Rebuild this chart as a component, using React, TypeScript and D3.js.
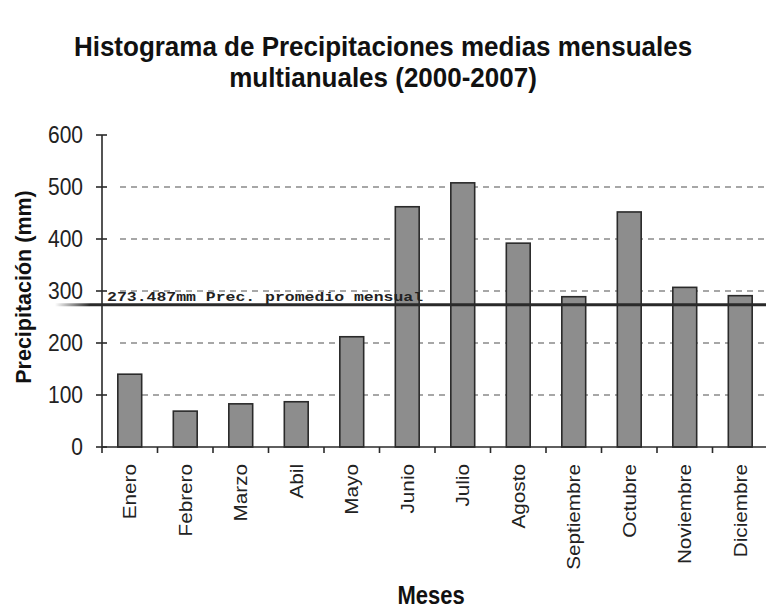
import * as d3 from "d3";
import * as React from "react";

const meses = ["Enero", "Febrero", "Marzo", "Abil", "Mayo", "Junio", "Julio", "Agosto", "Septiembre", "Octubre", "Noviembre", "Diciembre"];
const precipitacion = [140, 69, 83, 87, 212, 462, 508, 392, 289, 452, 307, 291];
const promedio = 273.487;
const yTicks = [0, 100, 200, 300, 400, 500, 600];
const gridTicks = [100, 200, 300, 400, 500];

const W = 766;
const H = 616;
const ink = "#2a2a2a";

export default function App() {
  const x = d3.scaleBand<string>()
    .domain(meses)
    .range([102, 768])
    .paddingInner(0.57)
    .paddingOuter(0.285);
  const y = d3.scaleLinear().domain([0, 600]).range([447, 135]);
  const step = x.step();
  const bw = x.bandwidth();
  const gap = step - bw;

  // tick positions on the x axis sit between the bands
  const xTickPos = meses.map((m) => x(m) - gap / 2);

  return (
    <svg width={W} height={H} style={{ position: "absolute", left: 0, top: 0, background: "#fff" }}
      fontFamily="'Liberation Sans', Arial, sans-serif">
      <rect x={0} y={0} width={W} height={H} fill="#fff" />

      {/* title */}
      <g fill="#111" fontWeight="bold" fontSize={26} textAnchor="middle">
        <text transform="translate(383,56) scale(1,1.08)">Histograma de Precipitaciones medias mensuales</text>
        <text transform="translate(383,87) scale(1,1.08)">multianuales (2000-2007)</text>
      </g>

      {/* grid */}
      {gridTicks.map((t) => (
        <line key={"g" + t} x1={120} x2={W} y1={y(t)} y2={y(t)} stroke="#8a8a8a" strokeWidth={1.6} strokeDasharray="6,5" />
      ))}

      {/* bars */}
      {meses.map((m, i) => (
        <rect key={"b" + m} x={x(m)} y={y(precipitacion[i])} width={bw} height={y(0) - y(precipitacion[i])}
          fill="#8d8d8d" stroke={ink} strokeWidth={1.6} />
      ))}

      {/* mean line */}
      <defs>
        <linearGradient id="fade" x1="0" x2="1" y1="0" y2="0">
          <stop offset="0" stopColor={ink} stopOpacity={0} />
          <stop offset="1" stopColor={ink} stopOpacity={1} />
        </linearGradient>
      </defs>
      <rect x={55} y={y(promedio) - 1.5} width={35} height={3} fill="url(#fade)" />
      <line x1={90} x2={W} y1={y(promedio)} y2={y(promedio)} stroke={ink} strokeWidth={3} />
      <text x={107} y={y(promedio) - 4} fontFamily="'Liberation Mono', 'DejaVu Sans Mono', monospace" fontWeight="bold"
        fontSize={13} fill="#222" textLength={316} lengthAdjust="spacingAndGlyphs">
        {promedio.toFixed(3) + "mm Prec. promedio mensual"}
      </text>

      {/* y axis */}
      <line x1={102} x2={102} y1={y(600)} y2={y(0)} stroke={ink} strokeWidth={1.6} />
      {yTicks.map((t) => (
        <g key={"y" + t}>
          <line x1={96} x2={107} y1={y(t)} y2={y(t)} stroke={ink} strokeWidth={1.6} />
          <text transform={`translate(83,${y(t) + 8}) scale(1,1.15)`} textAnchor="end" fontSize={21} fill="#222">{t}</text>
        </g>
      ))}

      {/* x axis */}
      <line x1={102} x2={W} y1={y(0)} y2={y(0)} stroke={ink} strokeWidth={1.6} />
      {xTickPos.map((p, i) => (
        <line key={"xt" + i} x1={p} x2={p} y1={y(0)} y2={y(0) + 6} stroke={ink} strokeWidth={1.6} />
      ))}
      {meses.map((m) => (
        <text key={"xl" + m} transform={`translate(${x(m) + bw / 2},464) rotate(-90) scale(1.12,1)`}
          textAnchor="end" dy="0.35em" fontSize={18.5} fill="#222">{m}</text>
      ))}

      {/* axis titles */}
      <text transform="translate(23,287) rotate(-90)" textAnchor="middle" dy="0.35em"
        fontWeight="bold" fontSize={21.5} fill="#111">Precipitación (mm)</text>
      <text transform="translate(431,604) scale(1,1.15)" textAnchor="middle" fontWeight="bold" fontSize={22} fill="#111">Meses</text>
    </svg>
  );
}
